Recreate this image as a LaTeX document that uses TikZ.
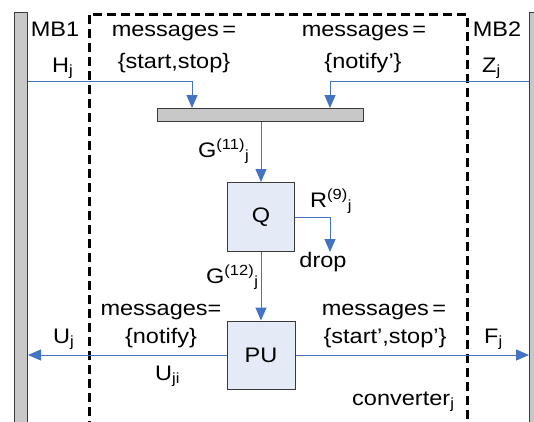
\documentclass[tikz,border=0pt]{standalone}
\usepackage{fontspec}
\setmainfont{Liberation Sans}[FakeStretch=1.12]
\usetikzlibrary{arrows.meta}
\definecolor{flowblue}{HTML}{4472C4}
\definecolor{boxfill}{HTML}{E4EAF6}
\definecolor{busgray}{HTML}{C8C8C8}
\definecolor{edgegray}{HTML}{3A3A3A}
\tikzset{
  flow/.style={draw=flowblue, line width=1pt,
    -{Triangle[length=13pt,width=11pt,fill=flowblue]}},
  busbar/.style={draw=edgegray, fill=busgray, line width=1pt, inner sep=0pt},
  procbox/.style={draw=edgegray, fill=boxfill, line width=1pt, inner sep=0pt,
    minimum width=67pt, minimum height=69pt},
  boundary/.style={line width=3pt, dash pattern=on 9pt off 5pt},
  lbl/.style={inner sep=0pt, anchor=base},
  lblw/.style={inner sep=0pt, anchor=base west}
}
\begin{document}
\begin{tikzpicture}[x=1pt, y=-1pt, font=\fontsize{21}{25}\selectfont]
\useasboundingbox (0,0) rectangle (534,421);
\fill[white] (0,0) rectangle (534,421);

% message buses on both sides and the converter boundary
\begin{scope}
  \clip (0,0) rectangle (534,421);
  \node[busbar, anchor=north west, minimum width=13pt, minimum height=430pt] (mb1) at (14,12) {};
  \node[busbar, anchor=north west, minimum width=13pt, minimum height=430pt] (mb2) at (529,12) {};
  \draw[boundary] (89,430) -- (89,14) -- (467,14) -- (467,430);
\end{scope}

% internal bus, queue and processing unit
\node[busbar, minimum width=206pt, minimum height=13pt] (bus) at (260,114.5) {};
\node[procbox] (Q) at (261,217) {Q};
\node[procbox, minimum width=68pt, minimum height=68pt] (PU) at (261,355) {PU};

% input and output points of the connectors
\coordinate (hin) at (192,108);
\coordinate (zin) at (330,108);
\coordinate (droptip) at (330,252);

% connectors
\draw[flow] (mb1.east |- 0,81) -| (hin);
\draw[flow] (mb2.west |- 0,81) -| (zin);
\draw[flow] (bus.south -| Q.north) -- (Q.north);
\draw[flow] (Q.south) -- (PU.north);
\draw[flow] (Q.east) -| (droptip);
\draw[flow] (PU.west) -- (PU.west -| mb1.east);
\draw[flow] (PU.east) -- (PU.east -| mb2.west);

% labels
\node[lbl] (mb1lbl) at (55,36) {MB1};
\node[lbl] (mb2lbl) at (497,36) {MB2};
\node[lblw] (hlbl) at (52,72) {H\textsubscript{j}};
\node[lblw] (zlbl) at (482,72) {Z\textsubscript{j}};
\node[lbl] (msgin1) at (174,36) {messages\,=};
\node[lbl] (setin1) at (174,68) {\{start,stop\}};
\node[lbl] (msgin2) at (364,36) {messages\,=};
\node[lbl] (setin2) at (363,68) {\{notify’\}};
\node[lblw] (g11) at (198,157) {G\textsuperscript{(11)}\textsubscript{j}};
\node[lblw] (r9) at (310,207) {R\textsuperscript{(9)}\textsubscript{j}};
\node[lbl] (drop) at (323,267) {drop};
\node[lblw] (g12) at (206,283) {G\textsuperscript{(12)}\textsubscript{j}};
\node[lbl] (msgout1) at (161,315) {messages=};
\node[lbl] (setout1) at (161,343) {\{notify\}};
\node[lblw] (ulbl) at (53,343) {U\textsubscript{j}};
\node[lblw] (ujilbl) at (155,380) {U\textsubscript{ji}};
\node[lbl] (msgout2) at (384,315) {messages\,=};
\node[lbl] (setout2) at (385,343) {\{start’,stop’\}};
\node[lblw] (flbl) at (484,343) {F\textsubscript{j}};
\node[lblw] (conv) at (352,405) {converter\textsubscript{j}};
\end{tikzpicture}
\end{document}
